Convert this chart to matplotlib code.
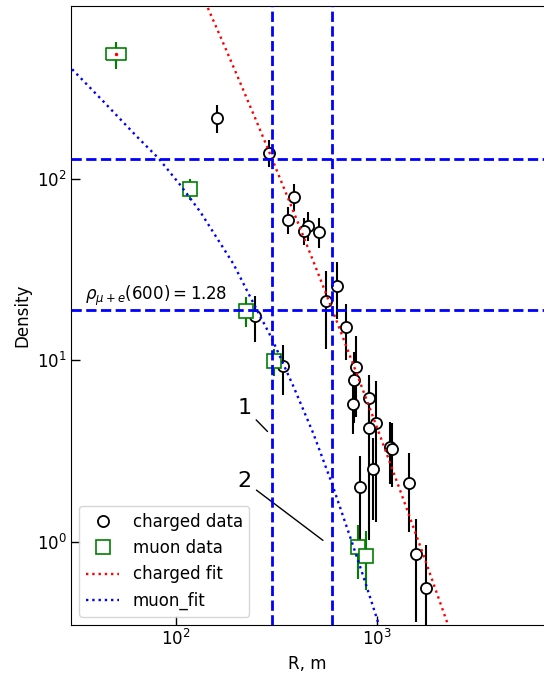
import matplotlib
matplotlib.use("Agg")
import matplotlib.pyplot as plt
from matplotlib.lines import Line2D
from matplotlib.ticker import NullLocator

plt.rcParams["font.size"] = 12

# Charged-particle density measurements: distance R (m), density, error
charged_r = [160, 291, 389, 363, 452, 436, 513, 246, 341, 560, 632, 701,
             784, 771, 760, 918, 992, 918, 1164, 1196, 961, 826, 1448, 1563, 1766]
charged_rho = [218, 140, 79.8, 59.8, 55.4, 52.0, 51.3, 17.6, 9.3, 21.2, 25.8, 15.2,
               9.24, 7.79, 5.74, 6.17, 4.49, 4.22, 3.34, 3.24, 2.52, 1.99, 2.11, 0.851, 0.557]
charged_err = [38, 24, 13.5, 10, 10, 9, 9.5, 4.9, 2.9, 9.7, 9, 5.2,
               4.4, 3.3, 1.8, 2.1, 3.2, 3.2, 1.25, 1.25, 1.2, 0.98, 0.98, 0.49, 0.40]

# Muon density measurements
muon_r = [50, 118, 223, 308, 805, 879]
muon_rho = [489, 88.4, 18.8, 9.87, 0.931, 0.838]
muon_err = [83, 12, 3.5, 1.7, 0.31, 0.30]

# Fitted lateral distribution curves
charged_fit_r = [140, 170, 200, 250, 300, 400, 500, 600, 800, 1000, 1300, 1700, 2300]
charged_fit_rho = [944, 578, 380, 211.8, 130.2, 59.4, 31.9, 19.03, 8.28, 4.29, 1.946, 0.853, 0.330]
muon_fit_r = [30.4, 43.6, 64.0, 81.9, 105, 132, 193.5, 234, 300, 385, 482, 597, 736, 858, 1000, 1030]
muon_fit_rho = [403, 267, 171, 130, 92.7, 66, 33.9, 22.4, 13.2, 7.15, 3.97, 2.10, 1.064, 0.640, 0.378, 0.34]

# Reference distances and densities
ref_r = [300, 600]
ref_rho = [128.5, 19.05]

fit_lw = 1.7

fig = plt.figure(figsize=(5.44, 6.75), dpi=100)
ax = fig.add_axes([71 / 544, 50 / 675, 473 / 544, 619 / 675])
ax.set_xscale("log")
ax.set_yscale("log")

ax.errorbar(charged_r, charged_rho, yerr=charged_err, fmt="none",
            ecolor="k", elinewidth=1.5, zorder=2)
ax.plot(charged_r, charged_rho, "o", ls="none", ms=8, mfc="w", mec="k",
        mew=1.3, zorder=3)

ax.errorbar(muon_r, muon_rho, yerr=muon_err, fmt="none",
            ecolor="green", elinewidth=1.5, zorder=4)
rect = [(-1, -0.59), (1, -0.59), (1, 0.59), (-1, 0.59), (-1, -0.59)]
ax.plot(muon_r[:1], muon_rho[:1], marker=rect, ls="none", ms=15, mfc="w",
        mec="green", mew=1.2, zorder=5)
ax.plot(muon_r[1:], muon_rho[1:], "s", ls="none", ms=9.5, mfc="w",
        mec="green", mew=1.2, zorder=5)
ax.plot(muon_r[:1], muon_rho[:1], ".", color="r", ms=3, zorder=6)

ax.plot(charged_fit_r, charged_fit_rho, ":", color="r", lw=fit_lw, zorder=6)
ax.plot(muon_fit_r, muon_fit_rho, ":", color="b", lw=fit_lw, zorder=6)

for r in ref_r:
    ax.axvline(r, color="b", ls="--", lw=2, zorder=7)
for rho in ref_rho:
    ax.axhline(rho, color="b", ls="--", lw=2, zorder=7)

ax.text(35.4, 21.6, r"$\rho_{\mu+e}(600) = 1.28$", fontsize=12)

ax.annotate("1", xy=(292, 3.95), xytext=(219, 5.47), ha="center", va="center",
            fontsize=16, arrowprops=dict(arrowstyle="-", color="k", lw=1))
ax.annotate("2", xy=(553, 0.995), xytext=(219, 2.16), ha="center", va="center",
            fontsize=16, arrowprops=dict(arrowstyle="-", color="k", lw=1))

ax.set_xlim(30, 6800)
ax.set_ylim(0.347, 900)
ax.xaxis.set_minor_locator(NullLocator())
ax.yaxis.set_minor_locator(NullLocator())
ax.tick_params(which="major", direction="in", length=6.5, width=1, pad=3)
ax.spines["right"].set_visible(False)

ax.set_xlabel("R, m")
ax.set_ylabel("Density")

handles = [
    Line2D([], [], marker="o", ls="none", ms=8, mfc="w", mec="k", mew=1.3,
           label="charged data"),
    Line2D([], [], marker="s", ls="none", ms=9.5, mfc="w", mec="green", mew=1.2,
           label="muon data"),
    Line2D([], [], color="r", ls=":", lw=fit_lw, label="charged fit"),
    Line2D([], [], color="b", ls=":", lw=fit_lw, label="muon_fit"),
]
ax.legend(handles=handles, loc="lower left", fontsize=12)

fig.savefig("out.png", dpi=100)
